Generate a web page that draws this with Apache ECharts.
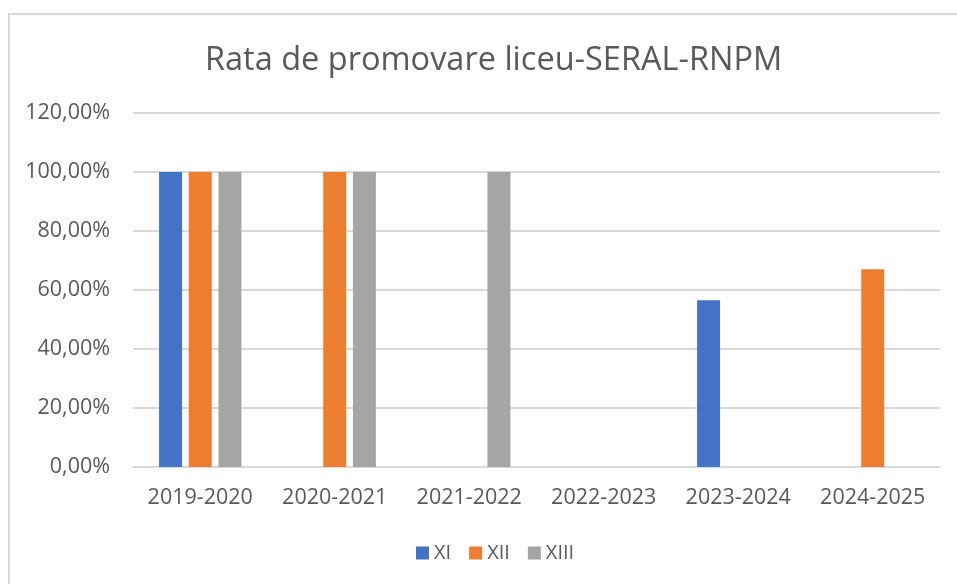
<!DOCTYPE html>
<html>
<head>
<meta charset="UTF-8">
<title>Rata de promovare liceu-SERAL-RNPM</title>
<script src="https://cdn.jsdelivr.net/npm/echarts@6/dist/echarts.min.js"></script>
<style>
  html, body { margin: 0; padding: 0; background: #fff; }
  #main { width: 957px; height: 584px; }
</style>
</head>
<body>
<div id="main"></div>
<script type="text/javascript">
    // date (procente)
    var ani = ['2019-2020', '2020-2021', '2021-2022', '2022-2023', '2023-2024', '2024-2025'];
    var clasaXI = [100, null, null, null, 56.5, null];
    var clasaXII = [100, 100, null, null, null, 67];
    var clasaXIII = [100, 100, 100, null, null, null];
    var numeSerii = ['XI', 'XII', 'XIII'];
    var culori = ['#4472C4', '#ED7D31', '#A5A5A5'];

    var font = '"Open Sans", sans-serif';
    var myChart = echarts.init(document.getElementById('main'));

    function fmt(v) {
        return v.toFixed(2).replace('.', ',') + '%';
    }

    var option = {
        color: culori,
        animation: false,
        title: {
            text: 'Rata de promovare liceu-SERAL-RNPM',
            left: 200,
            top: 39,
            textStyle: {
                fontFamily: font,
                fontSize: 32.5,
                fontWeight: 'normal',
                color: '#595959'
            }
        },
        graphic: [{
            type: 'rect',
            shape: { x: 9, y: 14, width: 960, height: 600 },
            style: { fill: 'none', stroke: '#D9D9D9', lineWidth: 2 },
            silent: true
        }],
        legend: {
            data: numeSerii,
            left: 411,
            top: 538,
            icon: 'rect',
            itemWidth: 13,
            itemHeight: 13,
            itemGap: 18,
            textStyle: { fontFamily: font, fontSize: 20, color: '#595959' }
        },
        grid: {
            left: 133,
            right: 17,
            top: 113,
            bottom: 117
        },
        xAxis: {
            type: 'category',
            data: ani,
            axisTick: { show: false },
            axisLine: { lineStyle: { color: '#D9D9D9', width: 2 } },
            axisLabel: {
                interval: 0,
                fontFamily: font,
                fontSize: 21.5,
                color: '#595959',
                margin: 20
            }
        },
        yAxis: {
            type: 'value',
            min: 0,
            max: 120,
            interval: 20,
            axisLine: { show: false },
            axisTick: { show: false },
            splitLine: { lineStyle: { color: '#D9D9D9', width: 2 } },
            axisLabel: {
                fontFamily: font,
                fontSize: 21.5,
                color: '#595959',
                margin: 23,
                formatter: fmt
            }
        },
        series: [
            { name: 'XI', type: 'bar', data: clasaXI, barWidth: 23, barGap: '29%' },
            { name: 'XII', type: 'bar', data: clasaXII, barWidth: 23, barGap: '29%' },
            { name: 'XIII', type: 'bar', data: clasaXIII, barWidth: 23, barGap: '29%' }
        ]
    };
    myChart.setOption(option);
</script>
</body>
</html>
